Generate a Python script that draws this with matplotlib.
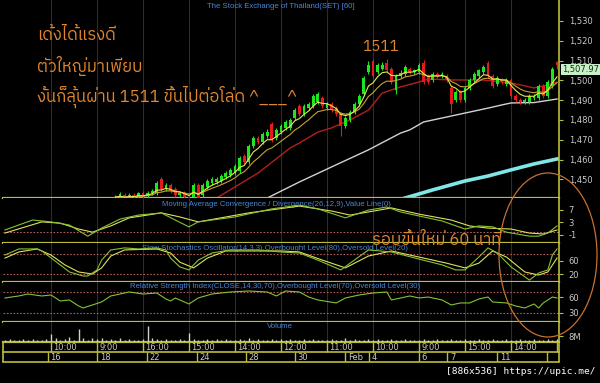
import numpy as np
import pandas as pd
import matplotlib
matplotlib.use('Agg')
import matplotlib.pyplot as plt
import matplotlib.transforms as mtransforms
from matplotlib import font_manager
from matplotlib.ft2font import FT2Font
from matplotlib.patches import Ellipse

# ---------------- data (bar index = hourly bar, 0..120) ----------------
first_bar = 24
opens = [1439, 1441, 1442, 1440, 1442, 1441, 1443, 1441.5, 1443, 1443,
         1450, 1445, 1447, 1445, 1442, 1443, 1441, 1441, 1447, 1442,
         1446, 1448, 1448.5, 1449, 1451, 1452, 1453, 1454, 1462, 1459,
         1467, 1471, 1469, 1472, 1478, 1471, 1474, 1476, 1476, 1481,
         1487, 1483, 1486, 1487, 1489, 1491, 1486, 1488, 1486, 1483,
         1477, 1480, 1484, 1488, 1493, 1504, 1510, 1504, 1506, 1509,
         1506, 1495, 1502, 1503, 1506, 1504, 1504, 1509, 1502, 1500,
         1503, 1502, 1502, 1496, 1490, 1494, 1490, 1496, 1500, 1502,
         1504, 1509, 1502, 1498, 1500, 1498, 1500, 1492, 1490, 1489,
         1489, 1491, 1491, 1497, 1492, 1497, 1509.5]
closes = [1441, 1442.5, 1440, 1442, 1441, 1443, 1441.5, 1443, 1444, 1448,
          1445, 1447, 1444, 1442, 1443, 1441, 1440, 1447, 1440, 1447,
          1449, 1450, 1450, 1451.5, 1453, 1454.5, 1457, 1461, 1459, 1467,
          1471, 1469, 1473, 1474, 1470, 1475, 1477, 1479, 1480, 1485,
          1483, 1487, 1488, 1492, 1493, 1487, 1488, 1485, 1483, 1477,
          1481, 1484, 1488, 1492, 1501, 1508, 1502, 1508, 1508, 1505,
          1499, 1502, 1503.5, 1507, 1504, 1505, 1508, 1499, 1499, 1503,
          1502, 1503, 1500, 1488, 1494, 1490, 1496, 1500, 1503, 1505,
          1507, 1502, 1497, 1501, 1499, 1500, 1492, 1490, 1489, 1490,
          1492, 1492, 1497, 1492, 1499, 1506, 1507.97]
highs = [1442, 1443.5, 1443, 1443, 1443, 1443.5, 1444, 1444, 1445, 1449,
         1451, 1448, 1448, 1446, 1444, 1444, 1442, 1448, 1448, 1448,
         1450, 1451, 1451, 1452.5, 1454, 1455.5, 1458, 1462, 1463, 1468,
         1472, 1472, 1474, 1475.5, 1479, 1476, 1478, 1480, 1481, 1486,
         1488, 1488, 1489, 1493, 1494, 1492, 1489, 1489, 1487, 1484,
         1482, 1485, 1489, 1493, 1502, 1510, 1511, 1509, 1509.5, 1511,
         1507, 1503, 1505, 1508, 1507, 1506, 1509, 1510.5, 1503, 1504,
         1504, 1504, 1503, 1497, 1495, 1495, 1497, 1501, 1504, 1506,
         1508, 1510, 1503, 1502, 1501, 1501, 1501, 1493, 1491, 1491,
         1493, 1493, 1498, 1498, 1500, 1507, 1510]
lows = [1437, 1440, 1439, 1439, 1440, 1440, 1440, 1440.5, 1442, 1442,
        1444, 1444, 1443, 1441, 1441, 1440, 1438, 1440, 1439, 1441,
        1445, 1447, 1447.5, 1448, 1450, 1451, 1452, 1453, 1458, 1458,
        1466, 1468, 1468, 1471, 1469, 1470, 1473, 1475, 1475, 1480,
        1482, 1482, 1485, 1486, 1488, 1486, 1485, 1484, 1482, 1472,
        1476, 1479, 1483, 1487, 1492, 1503, 1501, 1503, 1505, 1504,
        1498, 1493, 1501, 1502, 1503, 1503, 1503, 1498, 1498, 1499,
        1501, 1501, 1499, 1483.5, 1489, 1489, 1489, 1495, 1499, 1501,
        1503, 1501, 1496, 1497, 1498, 1497, 1491, 1489, 1488, 1488,
        1488, 1490, 1490, 1491, 1491, 1496, 1506]

# long moving averages
red_ma_x = [40, 46, 55, 62, 64, 68, 71, 75, 79, 82, 86, 90, 92, 97, 104, 110, 115, 118, 120]
red_ma = [1433, 1440.6, 1453.2, 1465.9, 1468.4, 1473.9, 1476, 1480, 1485, 1493.6,
          1496.7, 1499.2, 1500.7, 1500.2, 1500.2, 1498.7, 1496.2, 1497.7, 1499.2]
white_ma_x = [53, 57, 64, 71, 79, 86, 88, 91, 97, 100, 105, 108, 110, 115, 120]
white_ma = [1437, 1440.6, 1448.7, 1456.3, 1464.9, 1473.4, 1475, 1479, 1482, 1483.5,
            1486, 1487.6, 1488.6, 1488.8, 1490.6]
cyan_ma_x = [84, 87, 93, 100, 105, 110, 115, 120]
cyan_ma = [1438.5, 1440.6, 1444.7, 1449.2, 1451.7, 1454.8, 1457.8, 1460.3]

# MACD
macd_x = [0, 6, 10, 14, 18, 21, 25, 29, 34, 37, 40, 42, 50, 58, 64, 68, 74, 79, 83, 86,
          90, 95, 100, 103, 106, 109, 114, 116, 118, 120]
macd = [0.5, 3.7, 3.1, 2.1, -1.5, 1.1, 4.0, 5.3, 6.0, 3.7, 1.5, 3.1, 4.7, 7.3, 8.5, 7.3,
        4.4, 6.9, 7.9, 6.3, 5.0, 3.4, 0.8, 1.8, 1.5, -0.2, -1.5, -1.5, -0.5, 1.8]
signal_x = [0, 8, 12, 16, 19, 23, 27, 34, 38, 42, 53, 64, 71, 75, 79, 84, 90, 97, 101,
            105, 110, 114, 117, 120]
signal = [-0.5, 3.1, 2.7, 0.8, -0.2, 1.8, 4.4, 6.0, 4.7, 3.1, 6.0, 8.2, 6.6, 5.3, 6.3,
          7.6, 5.6, 3.7, 1.8, 1.1, 0.8, -0.5, -0.8, 0.5]

# slow stochastics
stoch_k_x = [0, 3, 7, 8, 12, 14, 17, 18, 20, 21, 23, 26, 29, 33, 35, 36, 38, 40, 42, 45,
             49, 55, 60, 64, 68, 73, 79, 84, 90, 95, 98, 100, 103, 105, 107, 110, 114, 116,
             118, 119, 120]
stoch_k = [77, 95, 95, 89, 48, 27, 15, 15, 33, 62, 92, 98, 95, 98, 92, 68, 42, 33, 62, 83,
           92, 92, 86, 83, 62, 33, 92, 86, 65, 48, 33, 33, 71, 98, 83, 42, 3, 24, 33, 77, 95]
stoch_d_x = [0, 3, 7, 10, 13, 16, 19, 21, 23, 26, 33, 36, 38, 41, 44, 48, 60, 64, 69, 74,
             79, 84, 90, 96, 100, 103, 106, 109, 113, 116, 118, 120]
stoch_d = [68, 86, 95, 77, 48, 27, 21, 39, 74, 92, 95, 83, 56, 39, 68, 89, 89, 86, 62, 39,
           74, 89, 71, 53, 39, 53, 89, 71, 27, 18, 27, 68]

# RSI
rsi_x = [0, 3, 5, 8, 10, 12, 14, 15, 16, 17, 19, 21, 23, 25, 27, 30, 33, 35, 36, 37, 40,
         42, 45, 49, 53, 57, 59, 61, 64, 66, 68, 72, 74, 77, 80, 83, 84, 86, 88, 90, 92, 95,
         97, 99, 101, 103, 105, 106, 109, 111, 113, 115, 116, 117, 119, 120]
rsi = [58.4, 62.3, 66.1, 62.3, 64.2, 52.6, 54.6, 48.8, 43, 39.1, 44.9, 50.7, 62.3, 66.1,
       70, 66.1, 68, 56.5, 52.6, 58.4, 46.8, 58.4, 66.1, 70, 71.9, 70, 62.3, 71.9, 70, 60.3,
       54.6, 48.8, 58.4, 64.2, 68, 70, 54.6, 58.4, 62.3, 58.4, 60.3, 54.6, 44.9, 48.8, 48.8,
       56.5, 60.3, 50.7, 48.8, 43, 39.1, 46.8, 39.1, 48.8, 60.3, 58.4]

# volume (millions), one per bar
volume = [3, 4, 3, 3, 4, 3, 4, 3, 3, 4, 11, 5, 3, 4, 7, 3, 17, 5, 3, 5,
          4, 5, 3, 4, 3, 5, 3, 4, 3, 3, 4, 22, 5, 4, 3, 4, 3, 3, 4, 3,
          12, 4, 3, 3, 4, 3, 4, 3, 4, 3, 3, 4, 3, 5, 3, 4, 3, 3, 4, 3,
          4, 3, 4, 3, 3, 4, 3, 4, 3, 3, 3, 4, 3, 3, 6, 3, 4, 3, 3, 4,
          3, 4, 3, 3, 4, 3, 3, 4, 3, 3, 3, 4, 3, 3, 4, 3, 3, 4, 3, 3,
          4, 3, 3, 4, 3, 3, 4, 3, 3, 4, 3, 3, 4, 3, 3, 4, 3, 3, 4, 3, 4]

time_ticks = [10, 20, 30, 40, 50, 60, 70, 80, 90, 100, 110]
time_labels = ['10:00', '9:00', '16:00', '15:00', '14:00', '12:00', '11:00', '10:00',
               '9:00', '15:00', '14:00']
day_bounds = [9.3, 20, 30.9, 41.7, 52.4, 63, 73.9, 79.1, 90, 96.1, 107, 117.8]
day_labels = ['16', '18', '22', '24', '28', '30', 'Feb', '4', '6', '7', '11', '']

# ---------------- style ----------------
W, H = 600, 383
YEL = '#bcbc3c'
GRID = '#2c2c2c'
BLUE = '#4a86d4'
ORANGE = '#e0862e'
TXT = '#c8c8c8'
LEVEL = '#b05a5a'
XL = (-0.43, 120.43)


def pick_thai_font():
    cands = sorted(font_manager.fontManager.ttflist, key=lambda f: 'Thai' not in f.name)
    for f in cands:
        try:
            if FT2Font(f.fname).get_char_index(0x0E14):
                return f.name
        except Exception:
            continue
    return 'DejaVu Sans'


thai_font = pick_thai_font()


def box(x0, y0, x1, y1):
    return [x0 / W, 1 - y1 / H, (x1 - x0) / W, (y1 - y0) / H]


def fx(px):
    return px / W


def fy(py):
    return 1 - py / H


def style(ax, yticks, ylabels):
    ax.set_facecolor('black')
    ax.set_xlim(XL)
    for s in ['top', 'left']:
        ax.spines[s].set_visible(False)
    ax.spines['right'].set_color(YEL)
    ax.spines['right'].set_linewidth(1.2)
    ax.spines['bottom'].set_color(YEL)
    ax.spines['bottom'].set_linewidth(1.6)
    ax.set_xticks([])
    ax.yaxis.tick_right()
    ax.set_yticks(yticks)
    ax.set_yticklabels(ylabels)
    ax.tick_params(axis='y', colors=YEL, labelcolor=TXT, length=3, width=0.8,
                   labelsize=6, pad=4)
    for t in time_ticks:
        ax.axvline(t, color=GRID, lw=0.8, zorder=0)


fig = plt.figure(figsize=(6, 3.83), dpi=100, facecolor='black')

# ---- price panel ----
axp = fig.add_axes(box(3, 0, 559, 198))
axp.set_ylim(1440.6, 1540.6)
pt = list(range(1450, 1531, 10))
style(axp, pt, [f'{v:,}' for v in pt])

bx = np.arange(first_bar, first_bar + len(closes))
o = np.array(opens)
c = np.array(closes)
cols = np.where(c >= o, '#1ee61e', '#e61a1a')
axp.vlines(bx, lows, highs, colors=cols, lw=0.8, zorder=3)
body = np.where(np.abs(c - o) < 0.5, np.where(c >= o, 0.5, -0.5), c - o)
axp.bar(bx, body, bottom=o, width=0.62, color=cols, zorder=4)

close_s = pd.Series(closes, index=bx)
axp.plot(bx, close_s.ewm(span=10, adjust=False).mean(), color='#c8a032', lw=0.8, zorder=5)
axp.plot(bx, close_s.ewm(span=5, adjust=False).mean(), color='#e8e850', lw=0.8, zorder=5)
axp.plot(red_ma_x, red_ma, color='#b41e1e', lw=1.0, zorder=2)
axp.plot(white_ma_x, white_ma, color='#d2d2d2', lw=1.0, zorder=2)
axp.plot(cyan_ma_x, cyan_ma, color='#80e6e6', lw=2.6, zorder=2)

# last price tag hangs just below the close level, as on the original
trans = mtransforms.blended_transform_factory(axp.transAxes, axp.transData)
axp.text(1.006, closes[-1], f'{closes[-1]:,.2f}', transform=trans, va='top',
         ha='left', fontsize=6, color='#103010', clip_on=False, zorder=10,
         bbox=dict(boxstyle='square,pad=0.12', fc='#c8f0c8', ec='none'))

# ---- MACD ----
axm = fig.add_axes(box(3, 198, 559, 243))
axm.set_ylim(-3.7, 10.8)
style(axm, [7, 3, -1], ['7', '3', '-1'])
axm.axhline(0, color=LEVEL, lw=0.8, ls=(0, (1.5, 1.5)), zorder=1)
axm.plot(signal_x, signal, color='#e0e05a', lw=0.8, zorder=3)
axm.plot(macd_x, macd, color='#86c232', lw=0.8, zorder=3)

# ---- stochastics ----
axs = fig.add_axes(box(3, 243, 559, 282))
axs.set_ylim(-2.6, 112.5)
style(axs, [60, 20], ['60', '20'])
for lv in (80, 20):
    axs.axhline(lv, color=LEVEL, lw=0.8, ls=(0, (1.5, 1.5)), zorder=1)
axs.plot(stoch_d_x, stoch_d, color='#e0e05a', lw=0.8, zorder=3)
axs.plot(stoch_k_x, stoch_k, color='#86c232', lw=0.8, zorder=3)

# ---- RSI ----
axr = fig.add_axes(box(3, 282, 559, 322))
axr.set_ylim(12, 89.3)
style(axr, [60, 30], ['60', '30'])
for lv in (70, 30):
    axr.axhline(lv, color=LEVEL, lw=0.8, ls=(0, (1.5, 1.5)), zorder=1)
axr.plot(rsi_x, rsi, color='#86c232', lw=0.8, zorder=3)

# ---- volume ----
axv = fig.add_axes(box(3, 322, 559, 342))
axv.set_ylim(0, 26.7)
style(axv, [8], ['8M'])
axv.vlines(np.arange(len(volume)), 0, volume, colors='#d0d0d0', lw=1.0, zorder=3)

# panel captions
for ax, px, py, s in [
        (axp, 281, 7, 'The Stock Exchange of Thailand(SET) [60]'),
        (axm, 162, 204, 'Moving Average Convergence / Divergence(26,12,9),Value Line(0)'),
        (axs, 142, 248, 'Slow Stochastics Oscillator(14,3,3),Overbought Level(80),Oversold Level(20)'),
        (axr, 130, 287, 'Relative Strength Index(CLOSE,14,30,70),Overbought Level(70),Oversold Level(30)'),
        (axv, 267, 327, 'Volume')]:
    ax.text(fx(px), fy(py), s, transform=fig.transFigure, color=BLUE, fontsize=5.6,
            family='Liberation Sans', va='center',
            ha='center' if ax is axp else 'left', zorder=1)

# ---- time / date rows ----
axt = fig.add_axes(box(3, 342, 559, 362))
axt.set_xlim(XL)
axt.set_ylim(0, 2)
axt.axis('off')
for yv in (0, 1):
    axt.axhline(yv, color=YEL, lw=1.2, clip_on=False)
axt.vlines([XL[0], XL[1]], 0, 2, colors=YEL, lw=1.2, clip_on=False)
axt.vlines(time_ticks + [120], 1, 2, colors=YEL, lw=1.0)
axt.vlines(day_bounds, 0, 1, colors=YEL, lw=1.0)
for t, s in zip(time_ticks, time_labels):
    axt.text(t + 0.45, 1.5, s, color=TXT, fontsize=6, va='center', ha='left')
for b, s in zip(day_bounds, day_labels):
    axt.text(b + 0.6, 0.5, s, color=TXT, fontsize=6, va='center', ha='left')

# ---- annotations ----
thai = [thai_font, 'DejaVu Sans']
for py, s in [(35, 'เด้งได้แรงดี'), (66, 'ตัวใหญ่มาเพียบ'),
              (97, 'งั้นก็ลุ้นผ่าน 1511 ขึ้นไปต่อโล่ด ^___^')]:
    fig.text(fx(37), fy(py), s, color=ORANGE, fontsize=12, family=thai,
             style='italic', va='center', ha='left')
fig.text(fx(362), fy(47), '1511', color=ORANGE, fontsize=11, family=thai,
         style='italic', va='center', ha='left')
fig.text(fx(372), fy(240), 'รอบขึ้นใหม่ 60 นาที', color=ORANGE, fontsize=12,
         family=thai, style='italic', va='center', ha='left', zorder=20)
fig.add_artist(Ellipse((fx(548), fy(255)), 98 / W, 164 / H, transform=fig.transFigure,
                       fill=False, ec='#c8702e', lw=0.9, zorder=20))
fig.text(fx(446), fy(372), '[886x536] https://upic.me/', color='white', fontsize=6.8,
         family='DejaVu Sans Mono', va='center', ha='left')

fig.savefig('out.png', dpi=100, facecolor='black')
